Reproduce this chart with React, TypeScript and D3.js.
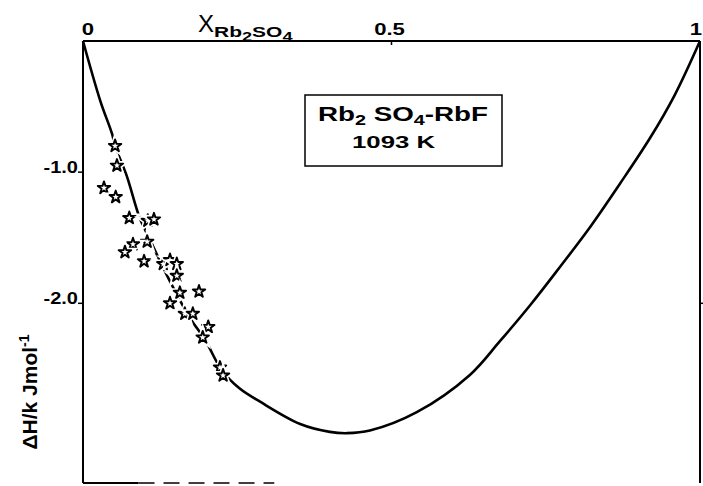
import React from 'react';
import * as d3 from 'd3';

// smooth fit curve of ΔH vs x(Rb2SO4)
const fitX = [0, 0.028, 0.047, 0.052, 0.071, 0.092, 0.109, 0.13, 0.154, 0.173, 0.198, 0.225, 0.254, 0.287, 0.352, 0.4, 0.428, 0.465, 0.541, 0.627, 0.676, 0.725, 0.773, 0.822, 0.87, 0.919, 0.959, 1];
const fitY = [0, -0.456, -0.707, -0.8, -1.03, -1.35, -1.52, -1.73, -1.95, -2.11, -2.28, -2.51, -2.65, -2.75, -2.92, -2.98, -2.99, -2.97, -2.83, -2.546, -2.287, -2.013, -1.723, -1.418, -1.09, -0.74, -0.412, 0];

// measured points (stars)
const pointX = [0.052, 0.055, 0.034, 0.053, 0.075, 0.105, 0.115, 0.104, 0.081, 0.068, 0.099, 0.13, 0.141, 0.152, 0.152, 0.157, 0.188, 0.141, 0.165, 0.178, 0.203, 0.194, 0.222, 0.227];
const pointY = [-0.8, -0.95, -1.12, -1.19, -1.35, -1.37, -1.36, -1.53, -1.55, -1.61, -1.68, -1.7, -1.67, -1.7, -1.79, -1.92, -1.91, -2.0, -2.08, -2.08, -2.18, -2.26, -2.49, -2.55];

const xTicks = [0, 0.5, 1];
const xTickLabels = ['0', '0.5', '1'];
const yTicks = [-1, -2];
const yTickLabels = ['-1.0', '-2.0'];

const W = 703, H = 486;
const font = '"Liberation Sans", Arial, sans-serif';

export default function App() {
  const x = d3.scaleLinear().domain([0, 1]).range([83, 700]);
  const y = d3.scaleLinear().domain([0, -3.37]).range([41, 483]);

  const fit = d3.line<number>()
    .x((_, i) => x(fitX[i]))
    .y(d => y(d))
    .curve(d3.curveCatmullRom.alpha(0.5));

  const star = d3.symbol().type(d3.symbolStar).size(48)();
  const labelShift = [5, -2, -4];

  return (
    <svg width={W} height={H} style={{ position: 'absolute', left: 0, top: 0, background: '#fff' }}
      fontFamily={font} fontWeight="bold">
      {/* frame */}
      <line x1={x(0)} x2={x(1)} y1={y(0)} y2={y(0)} stroke="#000" strokeWidth={2} />
      <line x1={x(0)} x2={x(0)} y1={y(0)} y2={483} stroke="#000" strokeWidth={2} />
      <line x1={x(1)} x2={x(1)} y1={y(0)} y2={483} stroke="#000" strokeWidth={2} />
      <line x1={x(0)} x2={x(0.09)} y1={483} y2={483} stroke="#000" strokeWidth={2} />
      <line x1={x(0.09)} x2={x(0.31)} y1={483} y2={483} stroke="#000" strokeWidth={1.6} strokeDasharray="16,9" />

      {/* x ticks on top */}
      {xTicks.map((t, i) => (
        <g key={'xt' + i}>
          <line x1={x(t)} x2={x(t)} y1={y(0)} y2={y(0) + 4} stroke="#000" strokeWidth={1.5} />
          <text transform={`translate(${x(t) + labelShift[i]},35) scale(1.3,1)`}
            fontSize={17} textAnchor="middle">{xTickLabels[i]}</text>
        </g>
      ))}

      {/* y ticks */}
      {yTicks.map((t, i) => (
        <g key={'yt' + i}>
          <line x1={x(0) - 5} x2={x(0)} y1={y(t)} y2={y(t)} stroke="#000" strokeWidth={1.5} />
          <text transform={`translate(${x(0) - 5},${y(t) + 1}) scale(1.25,1)`} fontSize={16}
            textAnchor="end">{yTickLabels[i]}</text>
        </g>
      ))}
      <line x1={x(1)} x2={x(1) + 4} y1={y(-2)} y2={y(-2)} stroke="#000" strokeWidth={1.5} />

      {/* axis titles */}
      <text x={198} y={32} fontSize={24} fontWeight="normal" textLength={16}>X</text>
      <text transform="translate(214,37) scale(1.4,1)" fontSize={15}>
        Rb<tspan dy={4} fontSize={13}>2</tspan><tspan dy={-4}>SO</tspan><tspan dy={4} fontSize={13}>4</tspan>
      </text>
      <text transform="translate(37,392) rotate(-90)" fontSize={21} textAnchor="middle">
        ΔH/k Jmol<tspan dy={-8} fontSize={14}>-1</tspan>
      </text>

      {/* fitted curve */}
      <path d={fit(fitY) ?? ''} fill="none" stroke="#000" strokeWidth={2.6} strokeLinejoin="round" />

      {/* measured points */}
      {pointY.map((v, i) => (
        <g key={'p' + i} transform={`translate(${x(pointX[i])},${y(v)})`}>
          <path d={star ?? ''} fill="#fff" stroke="#fff" strokeWidth={5} />
          <path d={star ?? ''} fill="#fff" stroke="#000" strokeWidth={1.9} strokeLinejoin="round" />
        </g>
      ))}

      {/* label box */}
      <rect x={305} y={95} width={197} height={71} fill="#fff" stroke="#000" strokeWidth={1.5} />
      <text x={318} y={121} fontSize={21} textLength={170} lengthAdjust="spacingAndGlyphs">
        Rb<tspan dy={4} fontSize={15}>2</tspan><tspan dy={-4}> SO</tspan><tspan dy={4} fontSize={15}>4</tspan><tspan dy={-4}>-RbF</tspan>
      </text>
      <text x={352} y={148} fontSize={17} textLength={83} lengthAdjust="spacingAndGlyphs">1093 K</text>
    </svg>
  );
}
